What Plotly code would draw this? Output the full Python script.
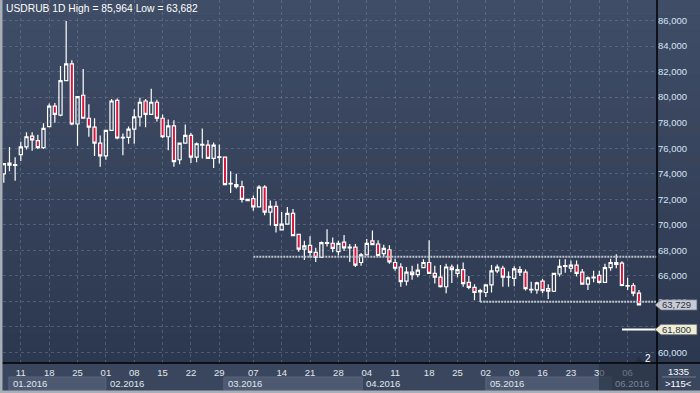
import plotly.graph_objects as go

# ---------------- data ----------------
open_ = [74.00, 74.83, 74.65, 75.50, 76.10, 76.95, 76.60, 76.05, 77.70, 79.30,
         78.60, 81.30, 82.60, 77.90, 80.15, 78.35, 77.65, 76.40, 75.40, 77.40,
         79.75, 76.80, 76.85, 77.50, 78.45, 79.70, 78.65, 79.60, 78.35, 76.90,
         77.75, 75.10, 76.40, 77.00, 75.30, 76.25, 76.25, 75.20, 75.28, 75.30,
         73.20, 73.15, 73.00, 72.00, 72.05, 71.40, 72.95, 71.00, 71.45, 69.60,
         70.05, 70.90, 69.25, 68.10, 68.40, 67.85, 67.45, 68.55, 68.55, 67.90,
         68.65, 68.20, 68.25, 67.05, 67.65, 68.75, 68.50, 67.75, 68.05, 67.05,
         66.70, 65.60, 66.30, 66.10, 66.65, 67.05, 66.20, 65.90, 65.15, 66.70,
         66.20, 66.50, 65.50, 65.10, 64.75, 64.70, 65.30, 66.40, 66.60, 65.90,
         65.80, 66.50, 66.30, 64.90, 64.90, 65.60, 65.00, 64.80, 66.15, 66.75,
         66.60, 66.85, 66.30, 65.35, 65.85, 66.05, 65.50, 66.65, 67.05, 67.00,
         65.20, 65.25, 64.65]
high = [74.85, 76.10, 75.30, 76.50, 77.25, 77.25, 77.05, 77.95, 79.50, 79.55,
        82.45, 85.964, 82.90, 80.10, 82.20, 79.45, 78.35, 77.00, 77.45, 79.85,
        79.90, 77.15, 77.70, 79.05, 79.95, 79.85, 80.65, 79.80, 78.65, 78.25,
        78.20, 76.45, 77.85, 77.20, 76.45, 77.55, 76.65, 76.45, 76.30, 75.35,
        74.20, 74.00, 73.45, 72.05, 72.30, 73.10, 73.10, 71.90, 71.85, 71.00,
        71.40, 71.25, 69.25, 68.75, 69.10, 68.20, 68.70, 69.65, 69.00, 68.75,
        69.20, 68.50, 68.50, 67.80, 68.90, 69.55, 68.80, 68.45, 68.40, 67.35,
        67.00, 66.70, 66.80, 66.95, 67.30, 68.80, 66.80, 66.85, 66.95, 66.90,
        66.90, 67.05, 66.00, 65.35, 65.00, 65.35, 66.85, 66.90, 66.80, 66.35,
        66.75, 66.75, 66.50, 65.55, 65.55, 65.75, 65.35, 66.20, 67.30, 67.30,
        67.20, 67.20, 66.55, 65.95, 66.40, 66.40, 66.95, 67.35, 67.70, 67.15,
        65.85, 65.45, 64.90]
low = [73.30, 74.20, 73.45, 75.00, 75.90, 75.80, 75.95, 75.95, 77.65, 78.00,
       78.50, 81.25, 77.80, 76.20, 78.30, 76.90, 75.40, 74.55, 75.10, 77.35,
       76.70, 75.45, 76.35, 76.35, 77.70, 77.65, 78.60, 78.10, 76.80, 75.85,
       74.55, 74.75, 76.35, 74.85, 74.90, 75.20, 75.15, 74.45, 74.80, 73.10,
       72.50, 72.85, 71.75, 71.85, 71.10, 71.40, 70.75, 69.95, 69.40, 69.55,
       70.00, 69.10, 67.90, 67.25, 67.45, 67.10, 67.40, 68.30, 67.85, 67.60,
       67.95, 67.10, 66.70, 66.80, 67.60, 68.40, 67.55, 67.50, 66.95, 66.40,
       65.15, 65.25, 65.70, 65.90, 66.60, 66.15, 65.40, 65.10, 64.65, 65.45,
       65.90, 65.15, 64.95, 64.10, 63.95, 64.35, 64.70, 66.20, 65.15, 65.15,
       65.20, 66.00, 64.85, 64.65, 64.60, 64.65, 64.20, 64.75, 65.95, 66.25,
       66.30, 65.95, 65.30, 64.90, 65.50, 65.40, 65.45, 66.40, 66.60, 65.20,
       64.90, 64.40, 63.682]
close = [74.80, 74.67, 74.72, 76.10, 76.90, 76.65, 76.05, 77.55, 79.30, 78.65,
         81.30, 82.60, 77.90, 80.05, 78.35, 77.65, 76.40, 75.40, 77.40, 79.70,
         76.80, 76.85, 77.50, 78.45, 79.60, 78.65, 79.60, 78.35, 76.90, 77.75,
         74.95, 76.40, 77.00, 75.30, 76.35, 76.30, 75.20, 76.25, 75.32, 73.15,
         73.25, 73.00, 72.00, 71.90, 71.40, 72.95, 71.00, 71.45, 69.95, 70.05,
         70.90, 69.15, 68.10, 68.35, 67.85, 67.45, 68.60, 68.60, 68.15, 68.55,
         68.20, 68.25, 66.85, 67.65, 68.55, 68.45, 67.60, 68.15, 67.10, 66.60,
         65.55, 66.30, 66.10, 66.45, 67.05, 66.20, 65.90, 65.15, 66.70, 66.50,
         66.50, 65.40, 65.10, 64.70, 64.85, 65.30, 66.40, 66.70, 65.90, 65.93,
         66.55, 66.30, 65.00, 64.95, 65.45, 64.85, 64.80, 66.20, 66.75, 66.80,
         66.85, 66.20, 65.35, 65.85, 65.90, 65.50, 66.65, 67.05, 66.90, 65.25,
         65.25, 64.65, 63.729]

tick_idx = [3, 8, 13, 18, 23, 28, 33, 38, 44, 49, 54, 59, 64, 69, 75, 80, 85, 90, 95, 100, 105, 110]
tick_labels = ["11", "18", "25", "01", "08", "15", "22", "29", "07", "14", "21",
               "28", "04", "11", "18", "25", "02", "09", "16", "23", "30", "06"]
month_start = [0.9, 18.0, 38.8, 63.2, 85.0, 107.1]
month_labels = ["01.2016", "02.2016", "03.2016", "04.2016", "05.2016", "06.2016"]
price_ticks = [60, 62, 64, 66, 68, 70, 72, 74, 76, 78, 80, 82, 84, 86]
hidden_price_ticks = [62]          # covered by the alert tag in the original
last_price = 63.729
alert_level = 61.8
resistance_level, resistance_start = 67.5, 44
support_level, support_start = 63.97, 84
title_text = "USDRUB 1D High = 85,964 Low = 63,682"
bars_label, zoom_label, marker_label = "1335", ">115<", "2"

# ---------------- geometry helpers ----------------
W, H = 700, 393
ML, MR, MT, MB = 3, 43, 0, 30
PW, PH = W - ML - MR, H - MT - MB
Y0, Y1 = 59.18, 87.61


def px(x):
    return (x - ML) / PW


def py(y):
    return (H - MB - y) / PH


FONT = "Liberation Sans, Arial, sans-serif"
xs = list(range(len(close)))

fig = go.Figure()
fig.add_trace(go.Candlestick(
    x=xs, open=open_, high=high, low=low, close=close,
    increasing=dict(line=dict(color="white", width=1.2), fillcolor="rgba(0,0,0,0)"),
    decreasing=dict(line=dict(color="white", width=1.2), fillcolor="#dc143c"),
    whiskerwidth=0, hoverinfo="skip", showlegend=False))

shapes = []
# background gradient (plot + right axis)
N = 24
top_c, bot_c = (64, 77, 103), (44, 56, 79)
for i in range(N):
    t = (i + 0.5) / N
    c = tuple(int(round(bot_c[k] + (top_c[k] - bot_c[k]) * t)) for k in range(3))
    shapes.append(dict(type="rect", xref="paper", yref="paper", x0=px(0), x1=px(W),
                       y0=i / N, y1=(i + 1) / N, fillcolor="rgb(%d,%d,%d)" % c,
                       line_width=0, layer="below"))
# x-axis area
shapes.append(dict(type="rect", xref="paper", yref="paper", x0=px(0), x1=px(W),
                   y0=py(H), y1=0, fillcolor="rgb(58,70,93)", line_width=0, layer="below"))
# month boxes (alternate)
for i in range(0, len(month_start), 2):
    x1 = month_start[i + 1] if i + 1 < len(month_start) else xs[-1] + 3
    shapes.append(dict(type="rect", xref="x", yref="paper", x0=month_start[i], x1=x1,
                       y0=py(390), y1=py(377), fillcolor="rgb(76,89,112)",
                       line=dict(color="rgb(88,101,124)", width=1), layer="below"))
# level lines
shapes.append(dict(type="line", xref="x", yref="y", x0=resistance_start, x1=xs[-1] + 3.2,
                   y0=resistance_level, y1=resistance_level,
                   line=dict(color="rgb(190,195,205)", width=2, dash="2px,1px")))
shapes.append(dict(type="line", xref="x", yref="y", x0=support_start, x1=xs[-1] + 3.2,
                   y0=support_level, y1=support_level,
                   line=dict(color="rgb(190,195,205)", width=2, dash="2px,1px")))
shapes.append(dict(type="line", xref="paper", yref="y", x0=px(622), x1=1,
                   y0=alert_level, y1=alert_level, line=dict(color="white", width=2)))
# black separators
shapes.append(dict(type="line", xref="paper", yref="paper", x0=1, x1=1, y0=py(H), y1=py(0),
                   line=dict(color="black", width=1.5)))
shapes.append(dict(type="line", xref="paper", yref="paper", x0=px(0), x1=px(W), y0=0, y1=0,
                   line=dict(color="black", width=1.5)))
# dim overlay bottom right
shapes.append(dict(type="rect", xref="paper", yref="paper", x0=px(599), x1=px(656),
                   y0=py(391), y1=py(364), fillcolor="rgba(40,50,68,0.65)", line_width=0))
# corner box separator
shapes.append(dict(type="line", xref="paper", yref="paper", x0=px(662), x1=px(696),
                   y0=py(377), y1=py(377), line=dict(color="rgba(150,160,180,0.6)", width=1)))
# frame border
shapes.append(dict(type="rect", xref="paper", yref="paper", x0=px(0), x1=px(2.5),
                   y0=py(H), y1=py(0), fillcolor="rgb(168,174,184)", line_width=0))
shapes.append(dict(type="rect", xref="paper", yref="paper", x0=px(0), x1=px(W),
                   y0=py(H), y1=py(390.5), fillcolor="rgb(168,174,184)", line_width=0))
# small triangle marker
shapes.append(dict(type="path", xref="paper", yref="paper",
                   path="M %f,%f L %f,%f L %f,%f Z" % (px(635), py(362), px(643), py(362), px(639), py(357)),
                   fillcolor="rgb(40,48,64)", line_width=0))
# price tags
dy = 5.2 / (PH / (Y1 - Y0))


def tag(level, fill):
    return dict(type="path", xref="paper", yref="y",
                path="M %f,%f L %f,%f L %f,%f L %f,%f L %f,%f Z" % (
                    px(655), level, px(661), level + dy, px(697), level + dy,
                    px(697), level - dy, px(661), level - dy),
                fillcolor=fill, line=dict(color="rgba(90,100,120,0.8)", width=1))


shapes.append(tag(last_price, "rgb(200,203,210)"))
shapes.append(tag(alert_level, "rgb(240,237,210)"))

annotations = []
annotations.append(dict(xref="paper", yref="paper", x=px(4), y=1, xanchor="left", yanchor="top",
                        yshift=-1, text=title_text, showarrow=False,
                        font=dict(family=FONT, size=10.3, color="white")))
for lvl in (last_price, alert_level):
    annotations.append(dict(xref="paper", yref="y", x=px(660), y=lvl, xanchor="left", yanchor="middle",
                            text=("%.3f" % lvl).replace(".", ","), showarrow=False,
                            font=dict(family=FONT, size=9.5, color="rgb(40,52,72)")))
for i, m in enumerate(month_labels):
    dim = i == len(month_labels) - 1
    annotations.append(dict(xref="x", yref="paper", x=month_start[i], y=py(383.5), xanchor="left",
                            yanchor="middle", xshift=2, text=m, showarrow=False,
                            font=dict(family=FONT, size=9.5,
                                      color="rgb(120,132,152)" if dim else "rgb(225,230,238)")))
annotations.append(dict(xref="paper", yref="paper", x=px(678), y=py(371), text=bars_label,
                        xanchor="center", yanchor="middle",
                        showarrow=False, font=dict(family=FONT, size=9.5, color="white")))
annotations.append(dict(xref="paper", yref="paper", x=px(678), y=py(383.5), text=zoom_label,
                        xanchor="center", yanchor="middle",
                        showarrow=False, font=dict(family=FONT, size=9.5, color="white")))
annotations.append(dict(xref="paper", yref="paper", x=px(647.5), y=0, yshift=4.5, text=marker_label,
                        xanchor="center", yanchor="middle",
                        showarrow=False, font=dict(family=FONT, size=10, color="white")))

price_text = ["" if v in hidden_price_ticks else ("%.3f" % v).replace(".", ",") for v in price_ticks]

fig.update_layout(
    width=W, height=H, margin=dict(l=ML, r=MR, t=MT, b=MB, pad=0, autoexpand=False),
    paper_bgcolor="rgb(58,70,93)", plot_bgcolor="rgba(0,0,0,0)", boxgap=0.2,
    shapes=shapes, annotations=annotations, showlegend=False,
    xaxis=dict(range=[-0.14, 115.18], rangeslider=dict(visible=False), automargin=False,
               tickmode="array", tickvals=tick_idx, ticktext=tick_labels, ticklabelstandoff=2,
               showgrid=True, gridcolor="rgba(120,135,160,0.45)", griddash="3px,3px", gridwidth=1,
               zeroline=False, showline=False, ticks="",
               tickfont=dict(family=FONT, size=9.5, color="rgb(225,230,238)"), fixedrange=True),
    yaxis=dict(range=[Y0, Y1], side="right", tickmode="array", tickvals=price_ticks, automargin=False,
               ticktext=price_text,
               showgrid=True, gridcolor="rgba(120,135,160,0.45)", griddash="3px,3px", gridwidth=1,
               zeroline=False, showline=False, ticks="",
               tickfont=dict(family=FONT, size=9.5, color="rgb(214,228,246)"), fixedrange=True),
)

fig.write_html("out.html", config={"displayModeBar": False},
               post_script="document.body.style.margin='0px';document.body.style.overflow='hidden';")
